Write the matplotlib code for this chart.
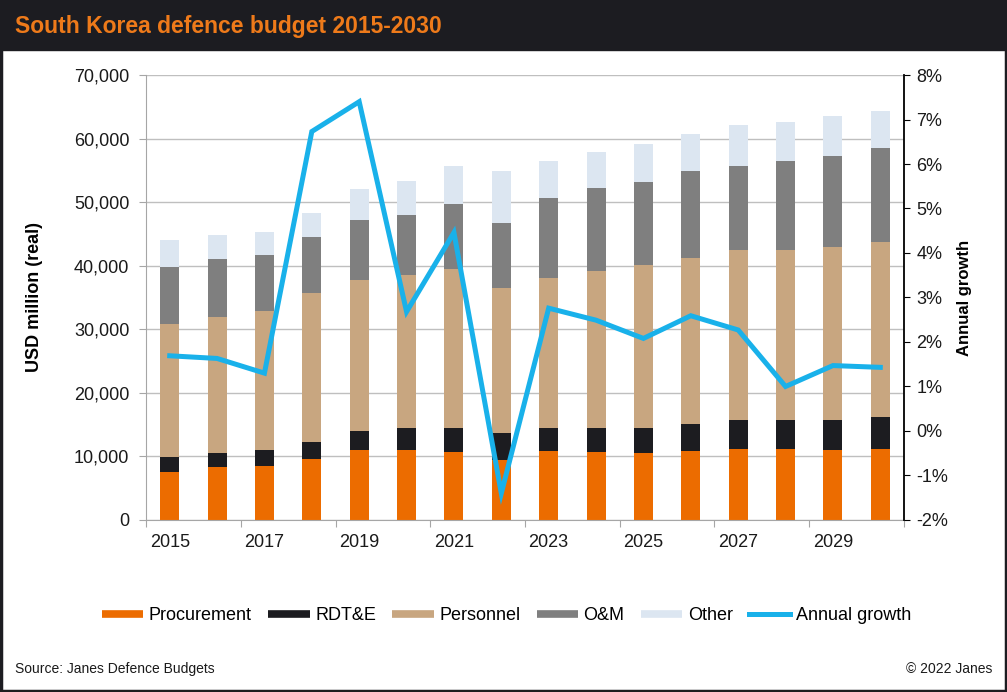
import matplotlib.pyplot as plt
import matplotlib.ticker as mticker
from matplotlib.lines import Line2D
from matplotlib.patches import Rectangle
import numpy as np

plt.rcParams['font.family'] = ['Liberation Sans', 'DejaVu Sans']

# Budget by category, USD million (real)
years = list(range(2015, 2031))
procurement = [7600, 8280, 8490, 9540, 11010, 11010, 10640, 9430,
               10850, 10640, 10480, 10850, 11210, 11210, 11010, 11210]
rdte = [2350, 2200, 2520, 2670, 2930, 3400, 3770, 4200,
        3560, 3770, 3930, 4290, 4460, 4460, 4660, 4940]
personnel = [20820, 21490, 21910, 23530, 23800, 24060, 25060, 22900,
             23690, 24740, 25730, 26010, 26740, 26740, 27210, 27610]
om = [9060, 9020, 8750, 8810, 9380, 9540, 10270, 10120,
      12480, 13000, 13000, 13720, 13300, 13990, 14400, 14680]
other = [4200, 3820, 3560, 3820, 4880, 5290, 5970, 8220,
         5870, 5770, 5980, 5820, 6350, 6180, 6290, 5970]
# annual growth, %
growth = [1.69, 1.63, 1.30, 6.73, 7.40, 2.68, 4.46, -1.40,
          2.76, 2.49, 2.08, 2.59, 2.27, 1.00, 1.47, 1.43]

series = [('Procurement', procurement, '#ec6c00'),
          ('RDT&E', rdte, '#1c1c20'),
          ('Personnel', personnel, '#c8a680'),
          ('O&M', om, '#7f7f7f'),
          ('Other', other, '#dce6f1')]
line_col = '#19b1ea'

fig = plt.figure(figsize=(10.07, 6.92), dpi=100)
ax = fig.add_axes([0.145, 0.2486, 0.7527, 0.643])

x = np.arange(len(years))
bottom = np.zeros(len(years))
for name, vals, col in series:
    ax.bar(x, vals, width=0.4, bottom=bottom, color=col, zorder=2)
    bottom += np.array(vals)

ax.set_xlim(-0.5, len(years) - 0.5)
ax.set_ylim(0, 70000)
ax.set_yticks(range(0, 70001, 10000))
ax.yaxis.set_major_formatter(mticker.StrMethodFormatter('{x:,.0f}'))
ax.grid(axis='y', color='#bfbfbf', linewidth=1, zorder=0)
ax.set_axisbelow(True)

# ticks at category boundaries, labels on bars every second year
ax.set_xticks(np.arange(-0.5, len(years), 2))
ax.set_xticklabels([])
ax.set_xticks(x[::2], minor=True)
ax.set_xticklabels([str(y) for y in years[::2]], minor=True)
ax.tick_params(axis='x', which='major', length=5, color='#a6a6a6', direction='out')
ax.tick_params(axis='x', which='minor', length=0, labelsize=13, pad=10, colors='#1a1a1a')
ax.tick_params(axis='y', length=5, color='#a6a6a6', labelsize=13, pad=7, labelcolor='#1a1a1a')

for s in ['top', 'right']:
    ax.spines[s].set_visible(False)
for s in ['left', 'bottom']:
    ax.spines[s].set_color('#a6a6a6')

ax.set_ylabel('USD million (real)', fontsize=13, fontweight='bold', labelpad=22)

ax2 = ax.twinx()
ax2.plot(x, growth, color=line_col, linewidth=3.6, zorder=3, solid_joinstyle='miter')
ax2.set_ylim(-2, 8)
ax2.set_yticks(range(-2, 9))
ax2.yaxis.set_major_formatter(mticker.FuncFormatter(lambda v, p: f'{v:.0f}%'))
ax2.tick_params(axis='y', length=4, color='black', labelsize=13, pad=5, labelcolor='#1a1a1a')
for s in ['top', 'left', 'bottom']:
    ax2.spines[s].set_visible(False)
ax2.spines['right'].set_color('black')
ax2.spines['right'].set_linewidth(1.3)
ax2.set_ylabel('Annual growth', fontsize=12, fontweight='bold', labelpad=6)

# legend
handles = [Line2D([], [], color=col, linewidth=5.5, solid_capstyle='butt')
           for _, _, col in series]
handles.append(Line2D([], [], color=line_col, linewidth=3.6))
labels = [name for name, _, _ in series] + ['Annual growth']
fig.legend(handles, labels, loc='center', bbox_to_anchor=(0.503, 0.11), ncol=6,
           frameon=False, fontsize=13, handlelength=2.3, handletextpad=0.3,
           columnspacing=0.9)

# header band and title
fig.add_artist(Rectangle((0, 1 - 50 / 692), 1, 50 / 692, transform=fig.transFigure,
                         color='#1c1c21', zorder=0))
fig.text(15 / 1007, 1 - 27 / 692, 'South Korea defence budget 2015-2030',
         color='#ee7a1a', fontsize=16.5, fontweight='bold', va='center', ha='left')

# footer
fig.text(15 / 1007, 1 - 669 / 692, 'Source: Janes Defence Budgets', fontsize=10,
         va='center', ha='left', color='#1a1a1a')
fig.text(992 / 1007, 1 - 669 / 692, '\u00a9 2022 Janes', fontsize=10,
         va='center', ha='right', color='#1a1a1a')

# outer frame
fig.add_artist(Rectangle((0.001, 0.0015), 0.998, 0.997, transform=fig.transFigure,
                         fill=False, edgecolor='#1c1c21', linewidth=2.5, zorder=5))

fig.savefig('out.png', dpi=100)
